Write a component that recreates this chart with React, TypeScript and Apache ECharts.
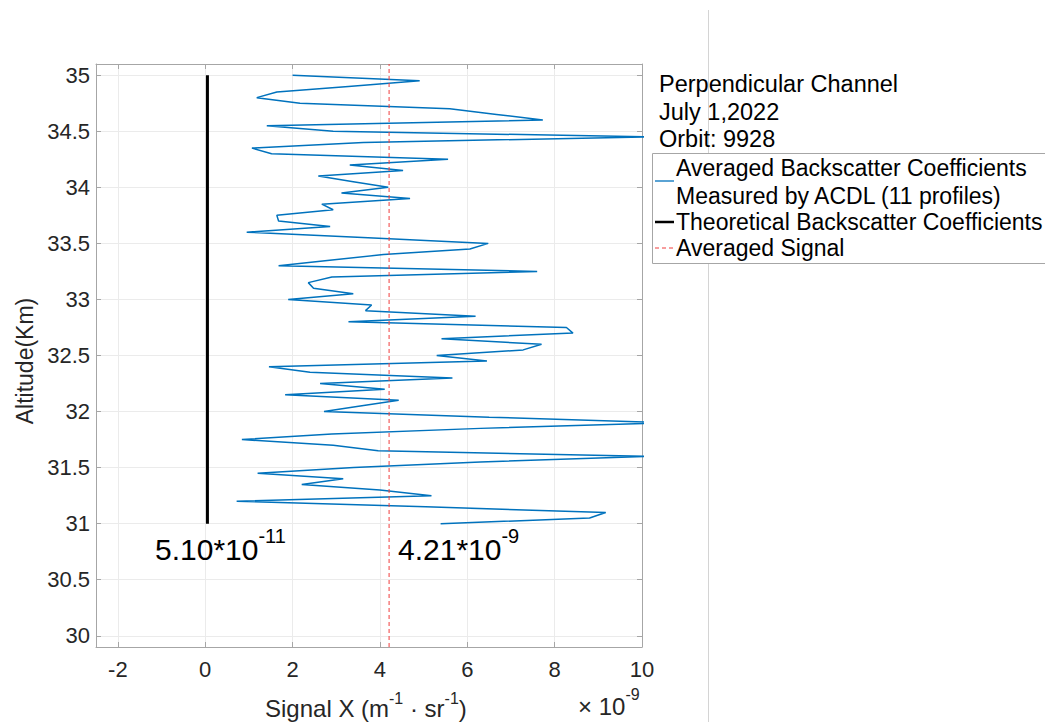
import React, { useEffect, useRef } from "react";
import * as echarts from "echarts";

// Altitude (km) of each averaged profile bin
const altitudes = [
  35.0, 34.95, 34.9, 34.85, 34.8, 34.75, 34.7, 34.65, 34.6, 34.55,
  34.5, 34.45, 34.4, 34.35, 34.3, 34.25, 34.2, 34.15, 34.1, 34.05,
  34.0, 33.95, 33.9, 33.85, 33.8, 33.75, 33.7, 33.65, 33.6, 33.55,
  33.5, 33.45, 33.4, 33.35, 33.3, 33.25, 33.2, 33.15, 33.1, 33.05,
  33.0, 32.95, 32.9, 32.85, 32.8, 32.75, 32.7, 32.65, 32.6, 32.55,
  32.5, 32.45, 32.4, 32.35, 32.3, 32.25, 32.2, 32.15, 32.1, 32.05,
  32.0, 31.95, 31.9, 31.85, 31.8, 31.75, 31.7, 31.65, 31.6, 31.55,
  31.5, 31.45, 31.4, 31.35, 31.3, 31.25, 31.2, 31.15, 31.1, 31.05,
  31.0,
];

// Averaged backscatter coefficients (x 1e-9)
const measured = [
  2.0, 4.91, 3.28, 1.64, 1.18, 2.17, 5.6, 6.67, 7.73, 1.41,
  2.93, 10.2, 3.62, 1.07, 1.52, 5.56, 3.31, 4.53, 2.59, 3.39,
  4.19, 3.12, 4.69, 2.67, 2.93, 1.64, 1.68, 2.86, 0.95, 3.73,
  6.48, 6.06, 4.08, 2.85, 1.68, 7.6, 2.9, 2.36, 2.48, 3.39,
  1.9, 3.81, 3.67, 6.19, 3.28, 8.27, 8.42, 5.41, 7.7, 7.28,
  5.3, 6.45, 1.46, 2.4, 5.66, 2.63, 4.11, 1.83, 4.43, 3.55,
  2.72, 6.5, 10.6, 6.3, 2.9, 0.84, 2.93, 3.96, 10.15, 6.3,
  3.4, 1.2, 3.16, 2.21, 4.0, 5.18, 0.72, 5.05, 9.17, 8.8,
  5.39,
];

const theoreticalValue = 0.051; // 5.10e-11 expressed in 1e-9 units
const theoreticalAlt = [31, 35];
const averagedSignal = 4.21;
const averagedAlt = [29.9, 35.1];

const xTicks = [-2, 0, 2, 4, 6, 8, 10];
const yTicks = [30, 30.5, 31, 31.5, 32, 32.5, 33, 33.5, 34, 34.5, 35];
const xRange = [-2.5, 10];
const yRange = [29.9, 35.1];

const titleLines = ["Perpendicular Channel", "July 1,2022", "Orbit: 9928"];
const legendLabels = [
  "Averaged Backscatter Coefficients",
  "Measured by ACDL (11 profiles)",
  "Theoretical Backscatter Coefficients",
  "Averaged Signal",
];

const FONT = "'Liberation Sans', Arial, Helvetica, sans-serif";
const AXIS_GRAY = "#a6a6a6";
const TEXT = "#262626";

export default function App() {
  const ref = useRef<HTMLDivElement>(null);

  useEffect(() => {
    if (!ref.current) return;
    const chart = echarts.init(ref.current, null, { renderer: "svg" });

    const axisCommon = {
      type: "value" as const,
      axisLine: { show: true, onZero: false, lineStyle: { color: AXIS_GRAY, width: 1 } },
    };

    const sup = (size: number, line: number, fill: string) => ({
      a: { fontSize: size, lineHeight: line, fontFamily: FONT, fill, verticalAlign: "bottom" },
      s: { fontSize: Math.round(size * 0.66), lineHeight: Math.round(size * 0.66), fontFamily: FONT, fill, verticalAlign: "top" },
    });

    const option: any = {
      animation: false,
      backgroundColor: "#ffffff",
      textStyle: { fontFamily: FONT },
      grid: { left: 96, top: 64, width: 546, height: 583, containLabel: false },
      xAxis: [
        {
          ...axisCommon,
          position: "bottom",
          min: xRange[0],
          max: xRange[1],
          axisTick: { show: true, inside: true, length: 5, customValues: xTicks, lineStyle: { color: AXIS_GRAY } },
          axisLabel: { customValues: xTicks, fontSize: 22, color: TEXT, margin: 11, fontFamily: FONT },
          splitLine: { show: true, lineStyle: { color: "#ebebeb", width: 1 } },
        },
        {
          ...axisCommon,
          position: "top",
          min: xRange[0],
          max: xRange[1],
          axisTick: { show: true, inside: true, length: 5, customValues: xTicks, lineStyle: { color: AXIS_GRAY } },
          axisLabel: { show: false },
          splitLine: { show: false },
        },
      ],
      yAxis: [
        {
          ...axisCommon,
          position: "left",
          min: yRange[0],
          max: yRange[1],
          axisTick: { show: true, inside: true, length: 5, customValues: yTicks, lineStyle: { color: AXIS_GRAY } },
          axisLabel: { customValues: yTicks, fontSize: 22, color: TEXT, margin: 6, fontFamily: FONT },
          splitLine: { show: true, lineStyle: { color: "#ebebeb", width: 1 } },
        },
        {
          ...axisCommon,
          position: "right",
          min: yRange[0],
          max: yRange[1],
          axisTick: { show: true, inside: true, length: 5, customValues: yTicks, lineStyle: { color: AXIS_GRAY } },
          axisLabel: { show: false },
          splitLine: { show: false },
        },
      ],
      series: [
        {
          name: "Averaged Backscatter Coefficients",
          type: "line",
          xAxisIndex: 0,
          yAxisIndex: 0,
          data: altitudes.map((a, i) => [measured[i], a]),
          symbol: "none",
          clip: true,
          lineStyle: { color: "#0072BD", width: 1.5 },
          z: 3,
        },
        {
          name: "Theoretical Backscatter Coefficients",
          type: "line",
          data: theoreticalAlt.map((a) => [theoreticalValue, a]),
          symbol: "none",
          lineStyle: { color: "#000000", width: 3 },
          z: 4,
        },
        {
          name: "Averaged Signal",
          type: "line",
          data: averagedAlt.map((a) => [averagedSignal, a]),
          symbol: "none",
          lineStyle: { color: "#f03c3c", width: 1, type: [4, 3] },
          z: 5,
        },
      ],
      graphic: [
        // divider line on the page
        { type: "line", shape: { x1: 708.5, y1: 10, x2: 708.5, y2: 722 }, style: { stroke: "#d4d4d4", lineWidth: 1 }, z: 1 },
        // y axis name
        {
          type: "text",
          x: 25,
          y: 361,
          rotation: Math.PI / 2,
          style: { text: "Altitude(Km)", fontSize: 23, fill: TEXT, fontFamily: FONT, align: "center", verticalAlign: "middle" },
        },
        // x axis name
        {
          type: "text",
          x: 265,
          y: 690,
          style: {
            text: "{a|Signal X (m}{s|-1}{a| · sr}{s|-1}{a|)}",
            rich: sup(24, 30, TEXT),
          },
        },
        {
          type: "text",
          x: 578,
          y: 686,
          style: {
            text: "{a|× 10}{s|-9}",
            rich: sup(24, 32, TEXT),
          },
        },
        // annotations
        {
          type: "text",
          x: 155,
          y: 526,
          z: 10,
          style: { text: "{a|5.10*10}{s|-11}", rich: sup(30, 38, "#000") },
        },
        {
          type: "text",
          x: 398,
          y: 526,
          z: 10,
          style: { text: "{a|4.21*10}{s|-9}", rich: sup(30, 38, "#000") },
        },
        // title lines
        ...titleLines.map((t, i) => ({
          type: "text",
          x: 659,
          y: 84 + i * 27.5,
          style: { text: t, fontSize: 23.5, fill: "#000", fontFamily: FONT, verticalAlign: "middle" },
          z: 10,
        })),
        // legend box
        {
          type: "rect",
          shape: { x: 652.5, y: 153.5, width: 420, height: 110 },
          style: { fill: "#ffffff", stroke: AXIS_GRAY, lineWidth: 1 },
          z: 8,
        },
        { type: "line", shape: { x1: 655, y1: 181, x2: 674, y2: 181 }, style: { stroke: "#0072BD", lineWidth: 1.3 }, z: 9 },
        { type: "line", shape: { x1: 655, y1: 222, x2: 674, y2: 222 }, style: { stroke: "#000", lineWidth: 2.5 }, z: 9 },
        { type: "line", shape: { x1: 655, y1: 248, x2: 674, y2: 248 }, style: { stroke: "#f03c3c", lineWidth: 1, lineDash: [4, 3] }, z: 9 },
        ...legendLabels.map((t, i) => ({
          type: "text",
          x: 676,
          y: [168, 196, 222, 248][i],
          style: { text: t, fontSize: 23, fill: "#000", fontFamily: FONT, verticalAlign: "middle" },
          z: 10,
        })),
      ],
    };

    chart.setOption(option);
    return () => chart.dispose();
  }, []);

  return (
    <div
      ref={ref}
      style={{ position: "fixed", left: 0, top: 0, width: 1045, height: 722, background: "#fff" }}
    />
  );
}
